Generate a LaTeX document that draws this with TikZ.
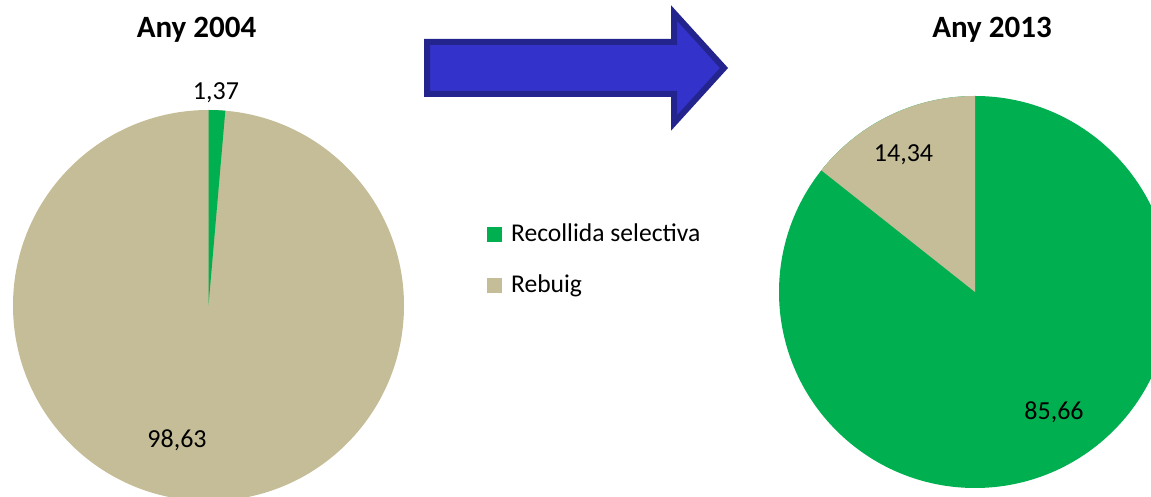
\documentclass[tikz,border=0pt]{standalone}
\usepackage{fontspec}
\setmainfont{Carlito}
\definecolor{rgreen}{HTML}{00B050}
\definecolor{rtan}{HTML}{C4BD97}
\definecolor{afill}{HTML}{3333CC}
\definecolor{aline}{HTML}{24248F}
\tikzset{
  ttl/.style={font=\fontsize{31}{36}\selectfont\bfseries, anchor=base},
  val/.style={font=\fontsize{26}{30}\selectfont, anchor=base},
  leg/.style={font=\fontsize{25.6}{30}\selectfont, anchor=base west},
  sw/.style={minimum size=15pt, inner sep=0pt, outer sep=0pt},
}
\begin{document}
\begin{tikzpicture}[x=1pt,y=1pt]
\useasboundingbox (0,0) rectangle (1151,497);
\clip (0,0) rectangle (1151,497);
% left pie (2004)
\coordinate (L) at (208.5,191.5);
\fill[rtan] (L) circle[radius=195.5];
\fill[rgreen] (L) -- ++(85.068:195.5) arc[start angle=85.068, end angle=90, radius=195.5] -- cycle;
% right pie (2013)
\coordinate (R) at (975,205);
\fill[rgreen] (R) circle[radius=196];
\fill[rtan] (R) -- ++(90:196) arc[start angle=90, end angle=141.624, radius=196] -- cycle;
% titles
\node[ttl] (t1) at (196.5,459) {Any 2004};
\node[ttl] (t2) at (992,459) {Any 2013};
% values
\node[val] (v1) at (216,397) {1,37};
\node[val] (v2) at (177,49) {98,63};
\node[val] (v3) at (903.5,335) {14,34};
\node[val] (v4) at (1054,77) {85,66};
% arrow
\draw[fill=afill, draw=aline, line width=6pt, line join=miter]
  (427,455) -- (674,455) -- (674,484) -- (724,429) -- (674,374) -- (674,403) -- (427,403) -- cycle;
% legend
\node[sw, fill=rgreen] (s1) at (494.5,262.5) {};
\node[sw, fill=rtan] (s2) at (494.5,211.5) {};
\node[leg] (l1) at (507.5,255) {Recollida selectiva};
\node[leg] (l2) at (507.5,204) {Rebuig};
\end{tikzpicture}
\end{document}
